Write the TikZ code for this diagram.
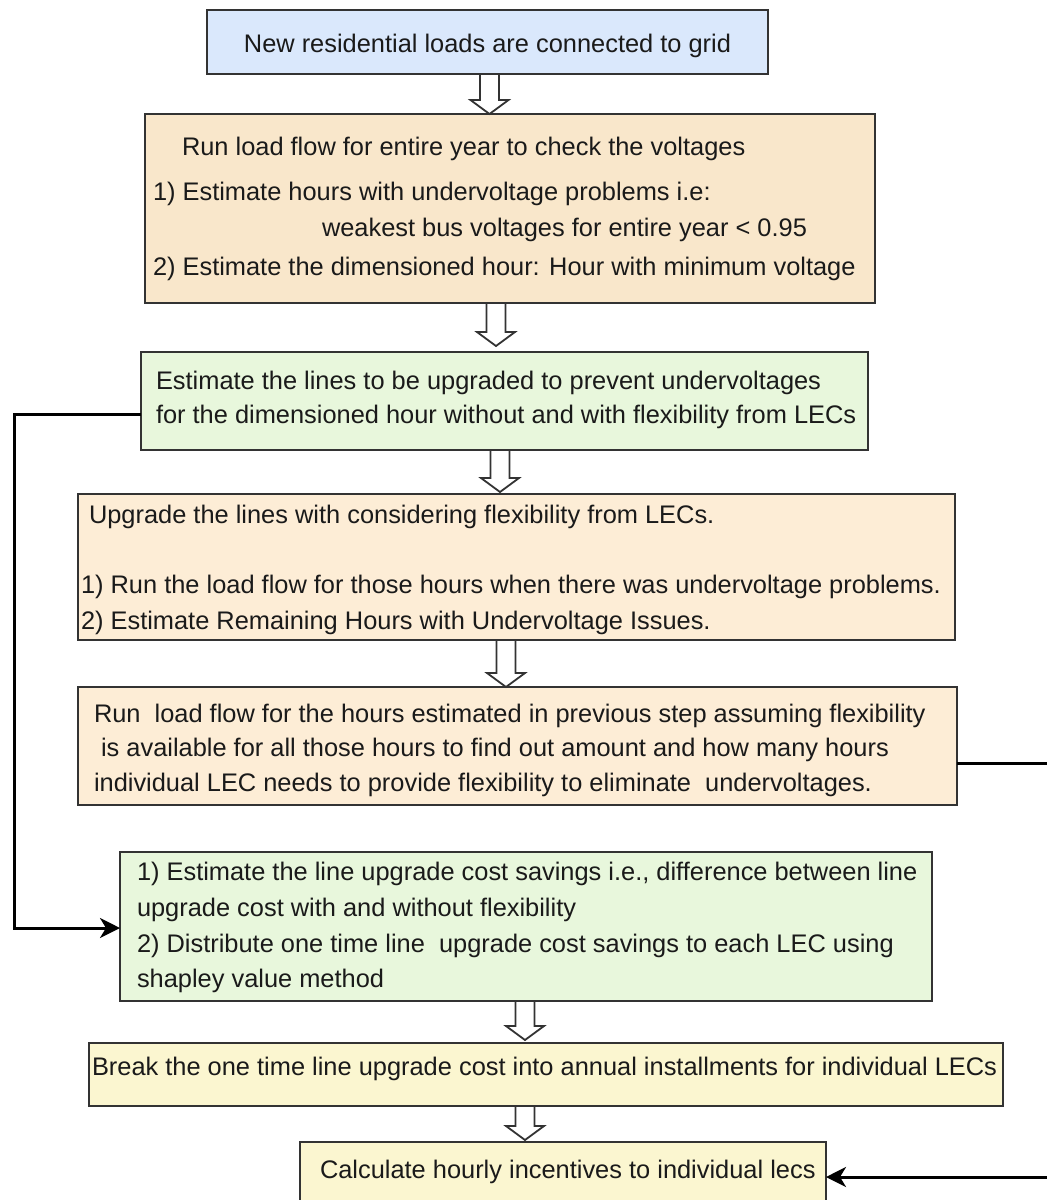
\documentclass[tikz,border=0pt]{standalone}
\usepackage{fontspec}
\setmainfont{Liberation Sans}
\usetikzlibrary{arrows.meta,calc}
\definecolor{cblue}{HTML}{DAE8FC}
\definecolor{corangeA}{HTML}{F9E7CB}
\definecolor{corangeB}{HTML}{FDEDD6}
\definecolor{cgreen}{HTML}{E8F7DC}
\definecolor{cyellow}{HTML}{FBF6D0}
\definecolor{cborder}{HTML}{333333}
\definecolor{ctext}{HTML}{1A1A1A}
\newcommand\flowarrow[2]{%
  \path[blk] let \p1=#1, \p2=#2 in
    (\x1-9.5pt,\y1) -- (\x1-9.5pt,\y2+14pt) -- (\x1-19pt,\y2+14pt) -- (\x1,\y2)
    -- (\x1+19pt,\y2+14pt) -- (\x1+9.5pt,\y2+14pt) -- (\x1+9.5pt,\y1) -- cycle;}
\begin{document}
\begin{tikzpicture}[x=1pt,y=-1pt,
  box/.style={draw=cborder, line width=1.3pt, rectangle, anchor=north west, inner sep=0pt, outer sep=0pt},
  txt/.style={anchor=base west, inner sep=0pt, outer sep=0pt, font=\fontsize{25.4}{30}\selectfont, text=ctext},
  conn/.style={draw=black, line width=3pt, -{Stealth[length=20pt,width=20pt,inset=6pt]}},
  blk/.style={draw=cborder, line width=1.8pt, fill=white, line join=miter}]
\useasboundingbox (0,0) rectangle (1047,1200);
\fill[white] (0,0) rectangle (1047,1200);

% boxes
\node[box, fill=cblue,    minimum width=561, minimum height=64]  (b1) at (207,10)   {};
\node[box, fill=corangeA, minimum width=730, minimum height=189] (b2) at (145,114)  {};
\node[box, fill=cgreen,   minimum width=727, minimum height=98]  (b3) at (141,352)  {};
\node[box, fill=corangeB, minimum width=877, minimum height=146] (b4) at (78,494)   {};
\node[box, fill=corangeB, minimum width=879, minimum height=118] (b5) at (78,687)   {};
\node[box, fill=cgreen,   minimum width=812, minimum height=149] (b6) at (120,852)  {};
\node[box, fill=cyellow,  minimum width=914, minimum height=63]  (b7) at (89,1043)  {};
\node[box, fill=cyellow,  minimum width=526, minimum height=70]  (b8) at (300,1142) {};

% texts
\node[txt, anchor=base] (t1) at (487.5,52) {New residential loads are connected to grid};

\node[txt] (t2a) at (182,155) {Run load flow for entire year to check the voltages};
\node[txt] (t2b) at (153,200) {1) Estimate hours with undervoltage problems i.e:};
\node[txt] (t2c) at (322,236) {weakest bus voltages for entire year < 0.95};
\node[txt] (t2d) at (153,275) {2) Estimate the dimensioned hour: Hour with minimum voltage};

\node[txt] (t3a) at (156,389) {Estimate the lines to be upgraded to prevent undervoltages};
\node[txt] (t3b) at (156,423) {for the dimensioned hour without and with flexibility from LECs};

\node[txt] (t4a) at (89,523) {Upgrade the lines with considering flexibility from LECs.};
\node[txt] (t4b) at (81,593) {1) Run the load flow for those hours when there was undervoltage problems.};
\node[txt] (t4c) at (81,629) {2) Estimate Remaining Hours with Undervoltage Issues.};

\node[txt] (t5a) at (94,722) {Run\ \ load flow for the hours estimated in previous step assuming flexibility};
\node[txt] (t5b) at (94,756) {\ is available for all those hours to find out amount and how many hours};
\node[txt] (t5c) at (94,791) {individual LEC needs to provide flexibility to eliminate\ \ undervoltages.};

\node[txt] (t6a) at (137,880) {1) Estimate the line upgrade cost savings i.e., difference between line};
\node[txt] (t6b) at (137,916) {upgrade cost with and without flexibility};
\node[txt] (t6c) at (137,952) {2) Distribute one time line\ \ upgrade cost savings to each LEC using};
\node[txt] (t6d) at (137,987) {shapley value method};

\node[txt] (t7) at (92,1075) {Break the one time line upgrade cost into annual installments for individual LECs};

\node[txt] (t8) at (320,1178) {Calculate hourly incentives to individual lecs};

% block arrows
\coordinate (ax1) at (489.5,0);
\coordinate (ax2) at (496,0);
\coordinate (ax3) at (500,0);
\coordinate (ax4) at (506,0);
\coordinate (ax5) at (525,0);
\flowarrow{(b1.south -| ax1)}{(b2.north -| ax1)}
\flowarrow{(b2.south -| ax2)}{($(b3.north -| ax2)+(0,-6)$)}
\flowarrow{(b3.south -| ax3)}{($(b4.north -| ax3)+(0,-2)$)}
\flowarrow{(b4.south -| ax4)}{(b5.north -| ax4)}
\flowarrow{(b6.south -| ax5)}{($(b7.north -| ax5)+(0,-3)$)}
\flowarrow{(b7.south -| ax5)}{($(b8.north -| ax5)+(0,-2)$)}

% side connectors
\draw[conn] ($(b3.west)+(0,13)$) -- ++(-127,0) |- ($(b6.west)+(0,1.5)$);
\draw[conn] ($(b5.east)+(0,17)$) -- ++(93,0) |- (b8.east);
\end{tikzpicture}
\end{document}
